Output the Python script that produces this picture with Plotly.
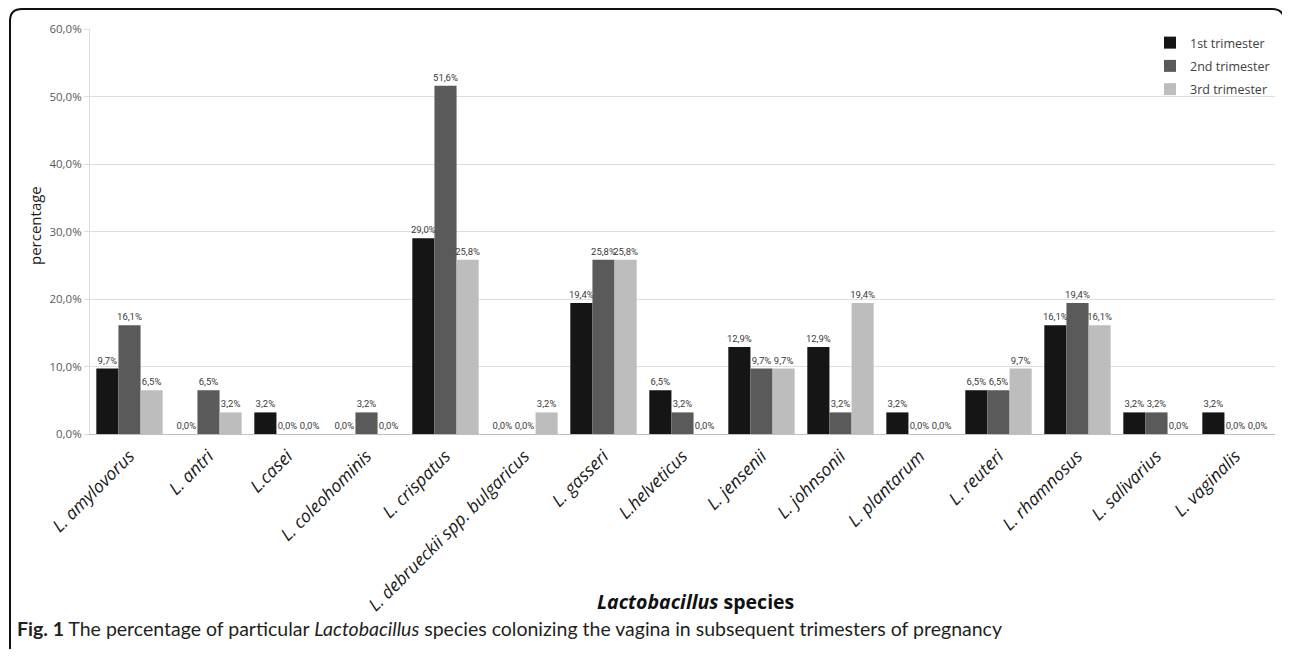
import plotly.graph_objects as go

categories = ["L. amylovorus", "L. antri", "L.casei", "L. coleohominis", "L. crispatus",
              "L. debrueckii spp. bulgaricus", "L. gasseri", "L.helveticus", "L. jensenii",
              "L. johnsonii", "L. plantarum", "L. reuteri", "L. rhamnosus", "L. salivarius",
              "L. vaginalis"]
first_tri = [9.7, 0.0, 3.2, 0.0, 29.0, 0.0, 19.4, 6.5, 12.9, 12.9, 3.2, 6.5, 16.1, 3.2, 3.2]
second_tri = [16.1, 6.5, 0.0, 3.2, 51.6, 0.0, 25.8, 3.2, 9.7, 3.2, 0.0, 6.5, 19.4, 3.2, 0.0]
third_tri = [6.5, 3.2, 0.0, 0.0, 25.8, 3.2, 25.8, 0.0, 9.7, 19.4, 0.0, 9.7, 16.1, 0.0, 0.0]
series_names = ["1st trimester", "2nd trimester", "3rd trimester"]
series_colors = ["#151515", "#5a5a5a", "#bdbdbd"]
y_ticks = [0, 10, 20, 30, 40, 50, 60]

OFF = 8  # page body margin
W, H = 1290 - OFF, 658 - 2 * OFF - 1
# plot area in page coordinates
PX0, PX1, PY0, PY1 = 90, 1275, 29, 434
L, R, T, B = PX0 - OFF, W - (PX1 - OFF), PY0 - OFF, H - (PY1 - OFF)
pw, ph = W - L - R, H - T - B


def px_x(x):
    """page x -> paper x"""
    return (x - OFF - L) / pw


def px_y(y):
    """page y -> paper y"""
    return (H - B - (y - OFF)) / ph


def fmt(v):
    return f"{v:.1f}%".replace(".", ",")


fig = go.Figure()
for name, vals, col in zip(series_names, [first_tri, second_tri, third_tri], series_colors):
    fig.add_trace(go.Bar(
        x=categories, y=vals, name=name,
        marker=dict(color=col, line=dict(width=0)),
        text=[fmt(v) for v in vals], textposition="outside", constraintext="none",
        textfont=dict(family="Liberation Sans Narrow, Arial Narrow, Roboto", size=9.5,
                      color="#3a3a3a"),
        cliponaxis=False, legendgroup=name,
    ))

fig.update_layout(
    width=W, height=H,
    margin=dict(l=L, r=R, t=T, b=B, autoexpand=False),
    paper_bgcolor="white", plot_bgcolor="white",
    barmode="group", bargap=0.16, bargroupgap=0,
    font=dict(family="Open Sans", color="#404040"),
    showlegend=True,
    legend=dict(x=px_x(1150), y=px_y(28), xanchor="left", yanchor="top",
                font=dict(family="Open Sans", size=12.5, color="#404040"),
                bgcolor="rgba(0,0,0,0)", traceorder="grouped", tracegroupgap=4,
                itemwidth=30),
    xaxis=dict(
        tickangle=-45, tickfont=dict(family="Open Sans", size=17.5, color="#1a1a1a", style="italic"),
        ticklabelstandoff=4,
        showline=True, linecolor="#bfbfbf", linewidth=1, ticks="", showgrid=False,
    ),
    yaxis=dict(
        range=[0, 60], tickvals=y_ticks, ticktext=[fmt(v) for v in y_ticks],
        tickfont=dict(family="Open Sans", size=11.5, color="#595959"),
        showgrid=True, gridcolor="#dedede", gridwidth=1,
        showline=True, linecolor="#dedede", linewidth=1,
        ticks="outside", ticklen=5, tickcolor="#dedede",
        zeroline=False,
    ),
)

# y-axis title
fig.add_annotation(
    x=px_x(35), y=px_y(226), xref="paper", yref="paper",
    text="percentage", textangle=-90, showarrow=False,
    font=dict(family="Open Sans", size=15, color="#1a1a1a"),
    xanchor="center", yanchor="middle",
)

# x-axis title
fig.add_annotation(
    x=px_x(695), y=px_y(601), xref="paper", yref="paper",
    text="<b><i>Lactobacillus</i> species</b>", showarrow=False,
    font=dict(family="Open Sans", size=19.5, color="#111111"),
    xanchor="center", yanchor="middle",
)

# caption
fig.add_annotation(
    x=px_x(15), y=px_y(628), xref="paper", yref="paper",
    text="<b>Fig. 1</b> The percentage of particular <i>Lactobacillus</i> species colonizing the vagina in subsequent trimesters of pregnancy",
    showarrow=False, font=dict(family="Lato", size=19.5, color="#231f20"),
    xanchor="left", yanchor="middle",
)

# rounded outer border
x0, x1, y0, y1, r = 10, 1284, 9, 670, 12
path = (f"M {px_x(x0)},{px_y(y1)} L {px_x(x0)},{px_y(y0 + r)} "
        f"Q {px_x(x0)},{px_y(y0)} {px_x(x0 + r)},{px_y(y0)} "
        f"L {px_x(x1 - r)},{px_y(y0)} Q {px_x(x1)},{px_y(y0)} {px_x(x1)},{px_y(y0 + r)} "
        f"L {px_x(x1)},{px_y(y1)}")
fig.add_shape(type="path", path=path, xref="paper", yref="paper",
              line=dict(color="#111111", width=2), layer="above")

fig.write_html("out.html")
